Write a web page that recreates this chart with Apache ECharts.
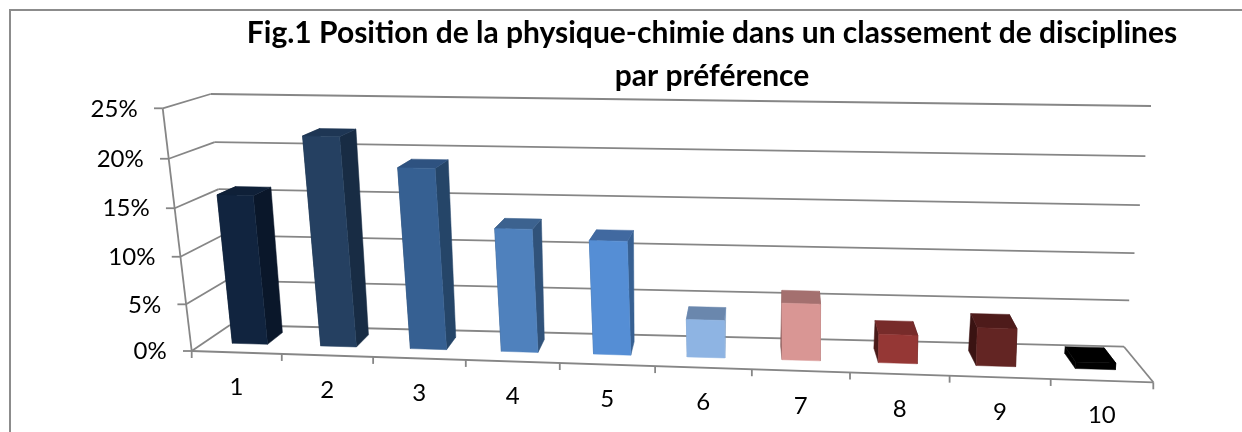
<!DOCTYPE html>
<html><head><meta charset="utf-8">
<style>html,body{margin:0;padding:0;background:#fff}#c{width:1242px;height:432px}</style>
<script src="https://cdn.jsdelivr.net/npm/echarts@6/dist/echarts.min.js"></script>
</head><body><div id="c"></div>
<script>
const categories = ['1','2','3','4','5','6','7','8','9','10'];
const values = [15.8, 22, 19, 13, 12, 4, 6, 3, 4, 0.7];
const yTickValues = [0, 5, 10, 15, 20, 25];
const yTickLabels = ['0%','5%','10%','15%','20%','25%'];
const frontColors = ['#11243f','#254061','#366092','#4f81bd','#558ed5','#8eb4e3','#d99694','#953735','#632523','#000000'];
const sideColors  = ['#0a172a','#182c44','#254568','#30527a','#376092','#7b9cc5','#8a5c5b','#4a1a19','#3a1312','#000000'];
const topColors   = ['#0f2038','#1e3654','#2e5280','#3c628f','#4169a0','#6a87ad','#a4706f','#772b2a','#4e1b1a','#000000'];
const titleText = 'Fig.1 Position de la physique-chimie dans un classement de disciplines\npar préférence';

const FONT = 'Lato, Carlito, "Open Sans", sans-serif';
const GRAY = '#868686';
// 3D frame of the plot in the picture (front/back, left/right, bottom/top)
const box = {
  FL0:[191.7,351], FR0:[1153.3,382.3], BL0:[230,325], BR0:[1124,346.7],
  FL1:[162.7,108.3], FR1:[1162,130], BL1:[210.7,94], BR1:[1151,106]
};
const lerp=(a,b,t)=>[a[0]+(b[0]-a[0])*t,a[1]+(b[1]-a[1])*t];
function project(u,d,t){
  const uu=u/(1+0.075*(1-u)), tt=t/(1+0.05*(1-t));
  const p0=lerp(lerp(box.FL0,box.FR0,uu),lerp(box.BL0,box.BR0,uu),d);
  const p1=lerp(lerp(box.FL1,box.FR1,uu),lerp(box.BL1,box.BR1,uu),d);
  return lerp(p0,p1,tt);
}
function norm(params,pt){
  const c=params.coordSys;
  return [(pt[0]-c.x)/c.width,(c.y+c.height-pt[1])/c.height];
}
const line=(a,b,w)=>({type:'line',shape:{x1:a[0],y1:a[1],x2:b[0],y2:b[1]},style:{stroke:GRAY,lineWidth:w||1.8}});
const poly=(pts,fill)=>({type:'polygon',shape:{points:pts},style:{fill:fill,stroke:fill,lineWidth:0.5}});
const text=(s,p,align,size)=>({type:'text',style:{text:s,x:p[0],y:p[1],fill:'#000',fontFamily:FONT,fontSize:size,textAlign:align,textVerticalAlign:'middle'}});

function renderGrid(params,api){
  const idx=params.dataIndex, v=api.value(1);
  const n=norm(params,api.coord([0,v])), t=n[1];
  const fl=project(0,0,t), bl=project(0,1,t), br=project(1,1,t);
  const children=[line(fl,bl),line(bl,br)];
  children.push(line([fl[0]-8.7,fl[1]],fl));
  children.push(text(yTickLabels[idx],[fl[0]-25,fl[1]+0.5],'right',24));
  if(idx===yTickValues.length-1){ children.push(line(fl,project(0,0,0))); }
  if(idx===0){
    const fr=project(1,0,0);
    children.push(line(fl,fr),line(fr,br),line(fr,[fr[0],fr[1]+7]),line(fl,[fl[0],fl[1]+7]));
  }
  return {type:'group',children};
}
function renderXTicks(params,api){
  const i=api.value(0), bw=api.size([1,0])[0];
  const p=api.coord([i,0]), u1=norm(params,[p[0]+bw/2,p[1]])[0], uc=norm(params,p)[0];
  const end=project(u1,0,0), mid=project(uc,0,0);
  const ch=[text(categories[i],[mid[0],mid[1]+35],'center',24)];
  if(i<categories.length-1) ch.push(line(end,[end[0],end[1]+7]));
  return {type:'group',children:ch};
}
const BAR_RATIO=0.4, BAR_SHIFT=0.002, D0=0.33, D1=0.77;
function renderBar(params,api){
  const i=api.value(0), v=api.value(1), bw=api.size([1,0])[0];
  const base=api.coord([i,0]), top=api.coord([i,v]);
  const hw=bw*BAR_RATIO/2;
  const l=norm(params,[base[0]-hw,base[1]])[0]+BAR_SHIFT, r=norm(params,[base[0]+hw,base[1]])[0]+BAR_SHIFT, t=norm(params,top)[1];
  const P=project;
  const front=[P(l,D0,0),P(r,D0,0),P(r,D0,t),P(l,D0,t)];
  const left=[P(l,D0,0),P(l,D1,0),P(l,D1,t),P(l,D0,t)];
  const right=[P(r,D0,0),P(r,D1,0),P(r,D1,t),P(r,D0,t)];
  const upper=[P(l,D0,t),P(r,D0,t),P(r,D1,t),P(l,D1,t)];
  const s=sideColors[i];
  return {type:'group',children:[poly(left,s),poly(right,s),poly(upper,topColors[i]),poly(front,frontColors[i])]};
}
const chart=echarts.init(document.getElementById('c'),null,{renderer:'canvas'});
chart.setOption({
  animation:false,
  backgroundColor:'#fff',
  title:{text:titleText,left:712,top:12,padding:0,textAlign:'center',
    textStyle:{fontFamily:FONT,fontWeight:700,fontSize:30,lineHeight:43,color:'#000'}},
  grid:{left:200,right:100,top:110,bottom:80},
  xAxis:{type:'category',data:categories,show:false},
  yAxis:{type:'value',min:0,max:25,interval:5,show:false},
  graphic:[
    {type:'polyline',silent:true,shape:{points:[[10,440],[10,10],[1244,10]]},style:{stroke:'#8c8c8c',lineWidth:2,fill:null}}
  ],
  series:[
    {type:'custom',z:1,renderItem:renderGrid,encode:{x:0,y:1},data:yTickValues.map(v=>[0,v]),silent:true},
    {type:'custom',z:1,renderItem:renderXTicks,encode:{x:0,y:1},data:categories.map((c,i)=>[i,0]),silent:true},
    {type:'custom',z:2,renderItem:renderBar,encode:{x:0,y:1},data:values.map((v,i)=>[i,v]),silent:true}
  ]
});
</script></body></html>
